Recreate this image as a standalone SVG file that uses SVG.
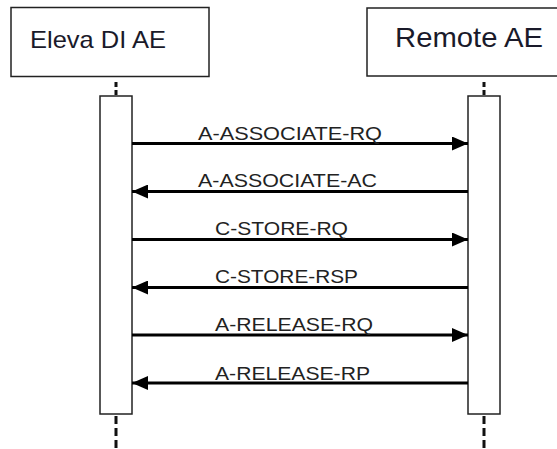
<svg xmlns="http://www.w3.org/2000/svg" width="557" height="449" viewBox="0 0 557 449">
<style>
.box{fill:#fff;stroke:#222;stroke-width:1.5}
.act{fill:#fff;stroke:#222;stroke-width:1.5}
.dash{stroke:#111;stroke-width:3;fill:none}
.msg{stroke:#000;stroke-width:3;fill:none}
.lbl{font-family:"Liberation Sans",Arial,sans-serif;font-size:18px;fill:#222}
.hdr{font-family:"Liberation Sans",Arial,sans-serif;fill:#1a1a2a}
</style>
<defs>
<marker id="ah" viewBox="0 0 16 14" refX="16" refY="7" markerWidth="16" markerHeight="14" markerUnits="userSpaceOnUse" orient="auto">
<path d="M0,0 L16,7 L0,14 z" fill="#000"/>
</marker>
</defs>
<rect width="557" height="449" fill="#fff"/>
<g id="node-eleva">
<rect class="box" x="11" y="7.5" width="198" height="69"/>
<text class="hdr" x="30" y="48" font-size="24" textLength="136" lengthAdjust="spacingAndGlyphs">Eleva DI AE</text>
<path class="dash" d="M116,82 V96" stroke-dasharray="5 3"/>
<rect class="act" x="100" y="96" width="32" height="318"/>
<path class="dash" d="M116,416 V449" stroke-dasharray="8 4"/>
</g>
<g id="node-remote">
<rect class="box" x="367" y="8" width="195" height="68"/>
<text class="hdr" x="395" y="47" font-size="28.5" textLength="148" lengthAdjust="spacingAndGlyphs">Remote AE</text>
<path class="dash" d="M484,82 V96" stroke-dasharray="5 3"/>
<rect class="act" x="468" y="96" width="32" height="318"/>
<path class="dash" d="M484,416 V449" stroke-dasharray="8 4"/>
</g>
<g id="connectors">
<line class="msg" x1="132" y1="143.5" x2="468" y2="143.5" marker-end="url(#ah)"/>
<line class="msg" x1="468" y1="191.5" x2="132" y2="191.5" marker-end="url(#ah)"/>
<line class="msg" x1="132" y1="239.5" x2="468" y2="239.5" marker-end="url(#ah)"/>
<line class="msg" x1="468" y1="287.5" x2="132" y2="287.5" marker-end="url(#ah)"/>
<line class="msg" x1="132" y1="335" x2="468" y2="335" marker-end="url(#ah)"/>
<line class="msg" x1="468" y1="383" x2="132" y2="383" marker-end="url(#ah)"/>
<text class="lbl" x="198" y="140" textLength="184" lengthAdjust="spacingAndGlyphs">A-ASSOCIATE-RQ</text>
<text class="lbl" x="198" y="187" textLength="179" lengthAdjust="spacingAndGlyphs">A-ASSOCIATE-AC</text>
<text class="lbl" x="215" y="235" textLength="133" lengthAdjust="spacingAndGlyphs">C-STORE-RQ</text>
<text class="lbl" x="215" y="283" textLength="143" lengthAdjust="spacingAndGlyphs">C-STORE-RSP</text>
<text class="lbl" x="215" y="331" textLength="158" lengthAdjust="spacingAndGlyphs">A-RELEASE-RQ</text>
<text class="lbl" x="215" y="380" textLength="155" lengthAdjust="spacingAndGlyphs">A-RELEASE-RP</text>
</g>
</svg>
